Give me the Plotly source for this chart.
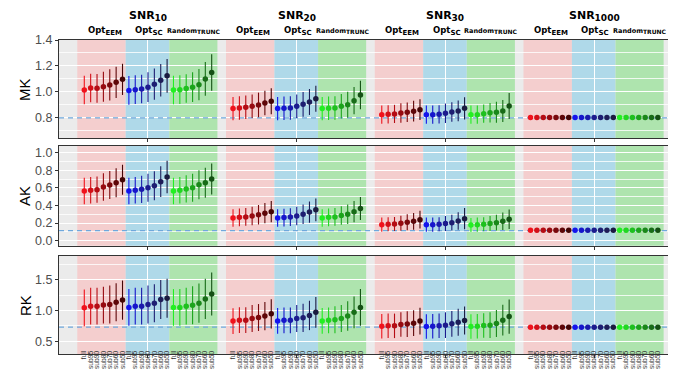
import plotly.graph_objects as go
from plotly.subplots import make_subplots

# ---------------- data ----------------
snr_labels = ["10", "20", "30", "1000"]
method_labels = ["EEM", "SC", "TRUNC"]
subset_labels = ["full", "sub95", "sub90", "sub80", "sub70", "sub60", "sub50"]
panel_names = ["MK", "AK", "RK"]
true_values = [0.80, 0.115, 0.73]

# each list: Opt_EEM (7) + Opt_SC (7) + Random_TRUNC (7)
mk_snr10 = [1.015, 1.030, 1.028, 1.040, 1.054, 1.074, 1.097,
            1.012, 1.018, 1.023, 1.037, 1.060, 1.090, 1.124,
            1.015, 1.018, 1.027, 1.037, 1.056, 1.100, 1.150]
mk_snr20 = [0.872, 0.877, 0.882, 0.890, 0.900, 0.915, 0.928,
            0.872, 0.875, 0.877, 0.890, 0.905, 0.923, 0.948,
            0.872, 0.875, 0.877, 0.890, 0.902, 0.933, 0.977]
mk_snr30 = [0.825, 0.828, 0.831, 0.838, 0.844, 0.852, 0.864,
            0.825, 0.825, 0.828, 0.836, 0.846, 0.854, 0.874,
            0.825, 0.825, 0.833, 0.841, 0.844, 0.854, 0.892]
mk_snr1000 = [0.803, 0.803, 0.803, 0.803, 0.803, 0.803, 0.803,
              0.803, 0.803, 0.803, 0.803, 0.803, 0.803, 0.803,
              0.803, 0.803, 0.803, 0.803, 0.803, 0.803, 0.803]

mk_err10 = [0.11, 0.11, 0.11, 0.115, 0.12, 0.12, 0.12,
            0.11, 0.11, 0.11, 0.115, 0.12, 0.125, 0.13,
            0.11, 0.11, 0.11, 0.115, 0.12, 0.13, 0.14]
mk_err20 = [0.09, 0.09, 0.09, 0.09, 0.095, 0.095, 0.10,
            0.09, 0.09, 0.09, 0.09, 0.095, 0.10, 0.10,
            0.09, 0.09, 0.09, 0.095, 0.10, 0.105, 0.11]
mk_err30 = [0.07, 0.07, 0.07, 0.075, 0.075, 0.08, 0.08,
            0.07, 0.07, 0.07, 0.075, 0.075, 0.08, 0.085,
            0.07, 0.07, 0.07, 0.075, 0.08, 0.085, 0.10]
mk_err1000 = [0.004, 0.004, 0.004, 0.004, 0.004, 0.004, 0.004,
              0.004, 0.004, 0.004, 0.004, 0.004, 0.004, 0.004,
              0.004, 0.004, 0.004, 0.004, 0.004, 0.004, 0.004]

ak_snr10 = [0.565, 0.573, 0.580, 0.610, 0.633, 0.659, 0.693,
            0.565, 0.573, 0.584, 0.602, 0.625, 0.670, 0.724,
            0.565, 0.573, 0.588, 0.602, 0.636, 0.659, 0.701]
ak_snr20 = [0.258, 0.265, 0.270, 0.280, 0.295, 0.312, 0.330,
            0.258, 0.262, 0.268, 0.280, 0.300, 0.325, 0.350,
            0.258, 0.265, 0.270, 0.285, 0.300, 0.330, 0.365]
ak_snr30 = [0.182, 0.186, 0.190, 0.198, 0.209, 0.220, 0.239,
            0.182, 0.182, 0.186, 0.194, 0.205, 0.224, 0.250,
            0.178, 0.182, 0.186, 0.194, 0.205, 0.220, 0.243]
ak_snr1000 = [0.118, 0.118, 0.118, 0.118, 0.118, 0.118, 0.118,
              0.118, 0.118, 0.118, 0.118, 0.118, 0.118, 0.118,
              0.118, 0.118, 0.118, 0.118, 0.118, 0.118, 0.118]

ak_err10 = [0.15, 0.15, 0.15, 0.155, 0.16, 0.165, 0.17,
            0.15, 0.15, 0.155, 0.16, 0.165, 0.175, 0.185,
            0.15, 0.15, 0.155, 0.16, 0.165, 0.17, 0.175]
ak_err20 = [0.10, 0.10, 0.10, 0.105, 0.11, 0.115, 0.12,
            0.10, 0.10, 0.10, 0.105, 0.11, 0.12, 0.13,
            0.10, 0.10, 0.10, 0.105, 0.11, 0.12, 0.13]
ak_err30 = [0.08, 0.08, 0.08, 0.085, 0.09, 0.095, 0.10,
            0.08, 0.08, 0.08, 0.085, 0.09, 0.10, 0.12,
            0.08, 0.08, 0.08, 0.085, 0.09, 0.10, 0.11]
ak_err1000 = [0.004, 0.004, 0.004, 0.004, 0.004, 0.004, 0.004,
              0.004, 0.004, 0.004, 0.004, 0.004, 0.004, 0.004,
              0.004, 0.004, 0.004, 0.004, 0.004, 0.004, 0.004]

rk_snr10 = [1.045, 1.070, 1.070, 1.090, 1.100, 1.135, 1.170,
            1.050, 1.070, 1.070, 1.100, 1.120, 1.180, 1.200,
            1.050, 1.050, 1.070, 1.085, 1.120, 1.190, 1.270]
rk_snr20 = [0.827, 0.843, 0.843, 0.870, 0.886, 0.909, 0.946,
            0.830, 0.840, 0.840, 0.870, 0.880, 0.920, 0.970,
            0.830, 0.840, 0.850, 0.870, 0.910, 0.970, 1.050]
rk_snr30 = [0.745, 0.750, 0.750, 0.772, 0.778, 0.794, 0.827,
            0.740, 0.745, 0.750, 0.761, 0.783, 0.810, 0.837,
            0.739, 0.745, 0.755, 0.761, 0.788, 0.843, 0.902]
rk_snr1000 = [0.728, 0.728, 0.728, 0.728, 0.728, 0.728, 0.728,
              0.728, 0.728, 0.728, 0.728, 0.728, 0.728, 0.728,
              0.728, 0.728, 0.728, 0.728, 0.728, 0.728, 0.728]

rk_err10 = [0.30, 0.30, 0.30, 0.30, 0.31, 0.31, 0.32,
            0.30, 0.30, 0.30, 0.31, 0.31, 0.32, 0.32,
            0.30, 0.30, 0.30, 0.31, 0.32, 0.33, 0.35]
rk_err20 = [0.21, 0.21, 0.21, 0.22, 0.22, 0.23, 0.24,
            0.21, 0.21, 0.21, 0.22, 0.23, 0.24, 0.25,
            0.21, 0.21, 0.22, 0.22, 0.24, 0.26, 0.30]
rk_err30 = [0.20, 0.20, 0.20, 0.20, 0.21, 0.21, 0.22,
            0.20, 0.20, 0.20, 0.21, 0.21, 0.22, 0.23,
            0.20, 0.20, 0.20, 0.21, 0.22, 0.25, 0.28]
rk_err1000 = [0.005, 0.005, 0.005, 0.005, 0.005, 0.005, 0.005,
              0.005, 0.005, 0.005, 0.005, 0.005, 0.005, 0.005,
              0.005, 0.005, 0.005, 0.005, 0.005, 0.005, 0.005]

means = [[mk_snr10, mk_snr20, mk_snr30, mk_snr1000],
         [ak_snr10, ak_snr20, ak_snr30, ak_snr1000],
         [rk_snr10, rk_snr20, rk_snr30, rk_snr1000]]
errs = [[mk_err10, mk_err20, mk_err30, mk_err1000],
        [ak_err10, ak_err20, ak_err30, ak_err1000],
        [rk_err10, rk_err20, rk_err30, rk_err1000]]

# ---------------- styles ----------------
red_shades = ["#F0121C", "#D30F18", "#B50C14", "#970A10", "#7A080C", "#5E0608", "#440505"]
blue_shades = ["#1414EC", "#1616CC", "#1A1AAC", "#1C1C8E", "#1E1E72", "#1E1E58", "#1B1B40"]
green_shades = ["#22F022", "#20D820", "#1EC01E", "#1CA41C", "#1A881A", "#186C18", "#145014"]
shades = [red_shades, blue_shades, green_shades]
region_fill = ["#F4CECE", "#AFD9E9", "#AEE4AE"]
region_span = [(-1.1, 6.5), (6.5, 13.35), (13.35, 20.9)]
GROUP = 23.35
XRANGE = [-3.97, 93.99]
BG = "#EBEBEB"
dash_color = "#6FA8DC"

yranges = [[0.646, 1.40], [-0.057, 1.076], [0.29, 1.89]]
ydticks = [0.2, 0.2, 0.5]
domains = [[0.688, 1.0], [0.345, 0.6624], [0.0, 0.312]]

fig = make_subplots(rows=3, cols=1, shared_xaxes=False, vertical_spacing=0.03)

xvals_all = []
xtext_all = []
for g in range(4):
    for m in range(3):
        for s in range(7):
            xvals_all.append(g * GROUP + m * 7 + s)
            xtext_all.append(subset_labels[s])
centers = [g * GROUP + 10 for g in range(4)]

shapes = []
for p in range(3):
    xr = "x" if p == 0 else f"x{p+1}"
    yr = "y" if p == 0 else f"y{p+1}"
    for g in range(4):
        for m in range(3):
            a, b = region_span[m]
            shapes.append(dict(type="rect", xref=xr, yref=yr + " domain",
                               x0=g * GROUP + a, x1=g * GROUP + b, y0=0, y1=1,
                               fillcolor=region_fill[m], line=dict(width=0), layer="below"))

    # reference (true value) dashed line, drawn under the points
    fig.add_trace(go.Scatter(x=XRANGE, y=[true_values[p], true_values[p]], mode="lines",
                             line=dict(color=dash_color, width=1.3, dash="5px,4px"),
                             showlegend=False, hoverinfo="skip"), row=p + 1, col=1)

    for m in range(3):
        for s in range(7):
            k = m * 7 + s
            xs = [g * GROUP + k for g in range(4)]
            ys = [means[p][g][k] for g in range(4)]
            es = [errs[p][g][k] for g in range(4)]
            col = shades[m][s]
            fig.add_trace(go.Scatter(
                x=xs, y=ys, mode="markers",
                marker=dict(color=col, size=5.5),
                error_y=dict(type="data", array=es, visible=True, color=col,
                             thickness=1.1, width=0),
                showlegend=False, hoverinfo="skip"), row=p + 1, col=1)

    fig.update_yaxes(row=p + 1, col=1, range=yranges[p], domain=domains[p],
                     dtick=ydticks[p], tick0=0, tickformat=".1f",
                     ticks="outside", ticklen=3, tickcolor="#333333", tickwidth=1,
                     tickfont=dict(family="Liberation Sans, Arial", size=12.5, color="#4D4D4D"),
                     showgrid=True, gridcolor="white", gridwidth=1,
                     minor=dict(dtick=ydticks[p] / 2, tick0=0, showgrid=True,
                                gridcolor="rgba(255,255,255,0.8)", gridwidth=0.5),
                     showline=True, mirror=True, linecolor="#333333", linewidth=1.2,
                     zeroline=False)
    fig.update_xaxes(row=p + 1, col=1, range=XRANGE,
                     tickmode="array", tickvals=xvals_all, ticktext=xtext_all,
                     showticklabels=(p == 2), tickangle=-90, ticks="",
                     ticklabelstandoff=-7,
                     tickfont=dict(family="Liberation Sans, Arial", size=6.7, color="#333333"),
                     showgrid=False, zeroline=False,
                     minor=dict(tickmode="array", tickvals=centers, ticks="outside",
                                ticklen=3, tickcolor="#333333", showgrid=True,
                                gridcolor="white", gridwidth=1),
                     showline=True, mirror=True, linecolor="#333333", linewidth=1.2)

annotations = []
for g in range(4):
    annotations.append(dict(xref="x3", yref="paper", x=g * GROUP + 10, y=1.1019,
                            text=f"<b>SNR<sub><span style='font-size:9px'>{snr_labels[g]}</span></sub></b>",
                            showarrow=False, borderpad=0,
                            font=dict(family="DejaVu Sans", size=11, color="black"),
                            xanchor="center", yanchor="top"))
    for m in range(3):
        base = "Random" if m == 2 else "Opt"
        size = 6.5 if m == 2 else 8.5
        subsize = 6 if m == 2 else 7
        annotations.append(dict(xref="x3", yref="paper", x=g * GROUP + m * 7 + 3.2, y=1.030,
                                text=f"<b>{base}<sub><span style='font-size:{subsize}px'>{method_labels[m]}</span></sub></b>",
                                showarrow=False, borderpad=0,
                                font=dict(family="DejaVu Sans", size=size, color="black"),
                                xanchor="center", yanchor="middle"))
ycent = [0.844, 0.5035, 0.156]
for p in range(3):
    annotations.append(dict(xref="paper", yref="paper", x=-0.0545, y=ycent[p],
                            text=panel_names[p], textangle=-90, showarrow=False,
                            font=dict(family="Liberation Sans, Arial", size=15, color="black"),
                            xanchor="center", yanchor="middle"))

fig.update_layout(width=676, height=369, margin=dict(l=51, r=1, t=32, b=23),
                  plot_bgcolor=BG, paper_bgcolor="white",
                  shapes=shapes, annotations=annotations, showlegend=False)

fig.write_html("out.html")
